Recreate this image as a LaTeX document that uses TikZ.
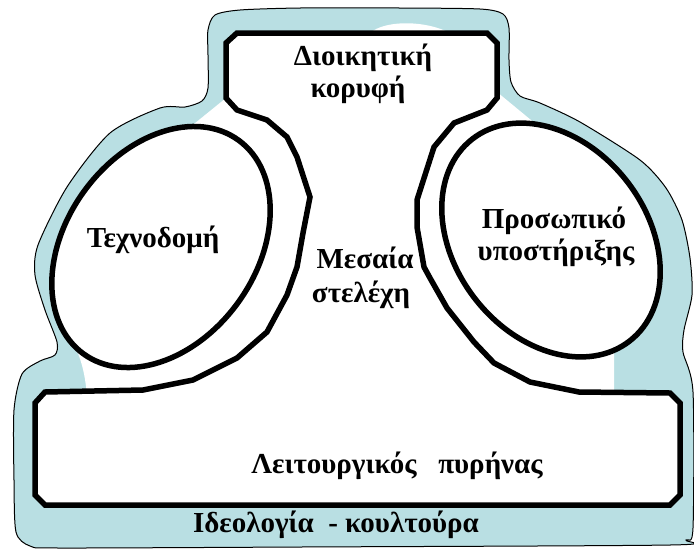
\documentclass[tikz,border=0pt]{standalone}
\usepackage{fontspec}
\setmainfont{Liberation Serif}
\definecolor{ideo}{RGB}{185,223,227}
\begin{document}
\begin{tikzpicture}[x=1pt,y=-1pt,
  lbl/.style={font=\fontsize{29}{32}\selectfont\bfseries, inner sep=0pt, anchor=base},
  frame/.style={line width=5.5pt, line join=miter, draw=black, fill=white},
  blob/.style={fill=ideo, draw=black, line width=1pt}]
\useasboundingbox (0,0) rectangle (694,550);
% ideology blob
\draw[blob] plot[smooth cycle, tension=0.45] coordinates {
 (208,30) (215,15) (240,10) (300,8) (400,8) (480,9) (503,14) (509,28)
 (509,60) (511,82) (520,96) (540,103) (580,122) (640,160) (666,188)
 (682,220) (690,258) (692,295) (684,330) (683,352) (693,392) (693,528)
 (686,540) (670,545) (300,547) (60,548) (30,546) (16,532) (14,480)
 (14,410) (22,374) (40,361) (55,355) (57,342) (45,310) (35,275)
 (38,245) (67,187) (110,133) (160,108) (185,107) (202,101) (208,88) (208,55)};
% white inner area
\fill[white] (226,43) -- (236,33) -- (370,33) .. controls (385,20) and (425,20) .. (450,33)
  -- (487,33) -- (497,43) -- (497,92) -- (537,125) -- (551,240) -- (614,348)
  -- (614,396) -- (87,396) .. controls (85,372) and (80,350) .. (66,333)
  -- (161,247) -- (189,128) -- (226,98) -- cycle;
% apex, middle line and operating core
\draw[frame] (226,43) -- (237,33) -- (487,33) -- (497,43) -- (497,98) -- (487,110)
  -- (454,123) -- (434,147) -- (417,200) -- (417,227) -- (424,267) -- (430,278)
  -- (447,308) -- (474,342) -- (494,363) -- (530,382) -- (579,392) -- (670,393)
  -- (680,403) -- (680,495) -- (670,505) -- (45,505) -- (35,495) -- (35,403)
  -- (45,392) -- (143,390) -- (193,380) -- (237,358) -- (267,332) -- (287,295)
  -- (297,267) -- (303,233) -- (310,197) -- (297,157) -- (287,137) -- (267,120)
  -- (237,110) -- (226,98) -- cycle;
% technostructure and support staff
\coordinate (lc) at (161,247);
\coordinate (rc) at (551,240);
\draw[frame, rotate around={54:(lc)}] (lc) ellipse [x radius=132, y radius=95];
\draw[frame, rotate around={-52:(rc)}] (rc) ellipse [x radius=128, y radius=96];
% labels
\node[lbl] (apex1) at (363,65) {Διοικητική};
\node[lbl] (apex2) at (358,97) {κορυφή};
\node[lbl] (tech) at (153,247) {Τεχνοδομή};
\node[lbl] (sup1) at (554,228) {Προσωπικό};
\node[lbl] (sup2) at (556,260) {υποστήριξης};
\node[lbl] (mid1) at (365,268) {Μεσαία};
\node[lbl] (mid2) at (361,302) {στελέχη};
\node[lbl] (core) at (397,473) {Λειτουργικός\ \ \ πυρήνας};
\node[lbl] (ideo) at (336,532) {Ιδεολογία\ \ - κουλτούρα};
\end{tikzpicture}
\end{document}
